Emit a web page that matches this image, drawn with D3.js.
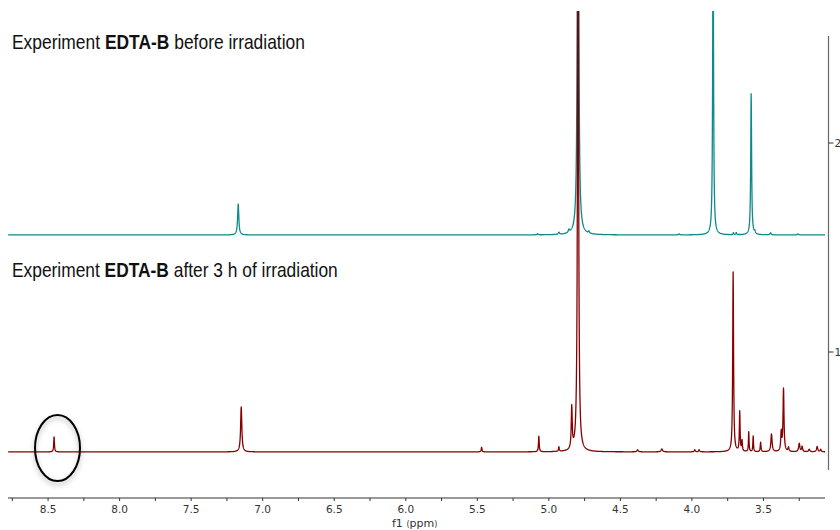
<!DOCTYPE html>
<html>
<head>
<meta charset="utf-8">
<script src="https://cdn.jsdelivr.net/npm/d3@7"></script>
<style>
  body { margin: 0; background: #fff; }
  svg { display: block; }
</style>
</head>
<body>
<svg id="chart" width="840" height="530"></svg>
<script>
// spectra: [ppm, height, half width (ppm)]
// heights are in units of the right-hand scale
const beforePeaks = [
  [7.171, 0.148, 0.005],
  [5.08, 0.005, 0.004],
  [4.93, 0.01, 0.005],
  [4.86, 0.014, 0.005],
  [4.796, 3.0, 0.0045],
  [4.72, 0.01, 0.004],
  [4.09, 0.005, 0.004],
  [3.852, 1.5, 0.0036],
  [3.71, 0.01, 0.003],
  [3.69, 0.01, 0.003],
  [3.586, 0.675, 0.0036],
  [3.56, 0.012, 0.004],
  [3.45, 0.01, 0.005],
  [3.26, 0.005, 0.005]
];
const afterPeaks = [
  [8.458, 0.072, 0.003],
  [7.150, 0.215, 0.005],
  [5.47, 0.022, 0.003],
  [5.07, 0.075, 0.003],
  [4.93, 0.022, 0.003],
  [4.84, 0.2, 0.004],
  [4.796, 2.9, 0.0042],
  [4.38, 0.01, 0.005],
  [4.21, 0.014, 0.006],
  [3.98, 0.01, 0.004],
  [3.95, 0.01, 0.004],
  [3.712, 0.86, 0.0035],
  [3.666, 0.19, 0.003],
  [3.65, 0.05, 0.003],
  [3.603, 0.095, 0.0025],
  [3.572, 0.075, 0.0025],
  [3.52, 0.045, 0.003],
  [3.444, 0.085, 0.005],
  [3.376, 0.09, 0.004],
  [3.36, 0.3, 0.004],
  [3.325, 0.02, 0.004],
  [3.25, 0.04, 0.005],
  [3.23, 0.025, 0.004],
  [3.18, 0.012, 0.005],
  [3.125, 0.025, 0.005],
  [3.10, 0.012, 0.004]
];
const stackOffsets = [1.56, 0.522];   // before, after
const spectrumColors = ["#0e8a8a", "#860000"];
const titles = [
  ["Experiment ", "EDTA-B", " before irradiation"],
  ["Experiment ", "EDTA-B", " after 3 h of irradiation"]
];
const xTicks = [8.5, 8.0, 7.5, 7.0, 6.5, 6.0, 5.5, 5.0, 4.5, 4.0, 3.5];
const xMinor = d3.range(3.25, 8.76, 0.25);
const yTicks = [1, 2];
const ppmRange = [8.78, 3.07];

const svg = d3.select("#chart");
const x = d3.scaleLinear().domain(ppmRange).range([8, 825]);
const y = d3.scaleLinear().domain([1, 2]).range([352, 143]);

// clip for the tall peaks
svg.append("defs").append("clipPath").attr("id", "plotclip")
  .append("rect").attr("x", 8).attr("y", 11).attr("width", 817).attr("height", 480);

const shadow = svg.select("defs").append("filter").attr("id", "shadow")
  .attr("x", "-50%").attr("y", "-50%").attr("width", "200%").attr("height", "200%");
shadow.append("feDropShadow").attr("dx", 0).attr("dy", 3)
  .attr("stdDeviation", 2.5).attr("flood-color", "#000").attr("flood-opacity", 0.3);

// sample points: fine grid plus every peak centre
function samples(peaks) {
  const pts = d3.range(ppmRange[1], ppmRange[0], 0.001);
  peaks.forEach(p => pts.push(p[0]));
  return pts.sort((a, b) => b - a);
}
function intensity(peaks, ppm) {
  let s = 0;
  peaks.forEach(([c, h, w]) => { s += h * w * w / ((ppm - c) * (ppm - c) + w * w); });
  return s;
}

const line = d3.line().x(d => x(d[0])).y(d => y(d[1]));
const g = svg.append("g").attr("clip-path", "url(#plotclip)");
[beforePeaks, afterPeaks].forEach((peaks, i) => {
  const data = samples(peaks).map(p => [p, stackOffsets[i] + intensity(peaks, p)]);
  g.append("path").datum(data)
    .attr("d", line)
    .attr("fill", "none")
    .attr("stroke", spectrumColors[i])
    .attr("stroke-width", 1.3)
    .attr("stroke-linejoin", "round");
});

// bottom axis
const xAxis = svg.append("g").attr("transform", "translate(0,498)");
xAxis.append("line").attr("x1", 8).attr("x2", 825).attr("stroke", "#333");
xAxis.selectAll("line.tick").data(xMinor).join("line")
  .attr("class", "tick")
  .attr("x1", d => x(d)).attr("x2", d => x(d))
  .attr("y1", 0).attr("y2", 3).attr("stroke", "#333");
xAxis.selectAll("text").data(xTicks).join("text")
  .attr("x", d => x(d)).attr("y", 15)
  .attr("text-anchor", "middle")
  .attr("font-family", "DejaVu Sans, sans-serif")
  .attr("font-size", 10.5)
  .attr("fill", "#333")
  .text(d => d.toFixed(1));
const xl = svg.append("text").attr("x", 392).attr("y", 527)
  .attr("font-family", "DejaVu Sans, sans-serif").attr("font-size", 11).attr("fill", "#333");
xl.append("tspan").text("f1 ");
xl.append("tspan").attr("font-size", 8).text("(");
xl.append("tspan").text("ppm");
xl.append("tspan").attr("font-size", 8).text(")");

// right axis
const yAxis = svg.append("g").attr("transform", "translate(828.5,0)");
yAxis.append("line").attr("y1", 36).attr("y2", 470).attr("stroke", "#666").attr("stroke-width", 1.2);
yAxis.selectAll("line.tick").data(yTicks).join("line")
  .attr("class", "tick")
  .attr("x1", 0).attr("x2", 5).attr("y1", d => y(d)).attr("y2", d => y(d)).attr("stroke", "#333");
yAxis.selectAll("text").data(yTicks).join("text")
  .attr("x", 6).attr("y", d => y(d) + 4)
  .attr("font-family", "DejaVu Sans, sans-serif").attr("font-size", 10.5).attr("fill", "#333")
  .text(d => d);

// titles, squeezed to the narrow look of the original
const titlePos = [[12, 49, 293], [12, 277, 326]];
titles.forEach((parts, i) => {
  const t = svg.append("text")
    .attr("font-family", "Liberation Sans Narrow, Arial Narrow, Liberation Sans, sans-serif")
    .attr("font-size", 20).attr("fill", "#111");
  parts.forEach((p, j) => t.append("tspan").attr("font-weight", j === 1 ? "bold" : "normal").text(p));
  const w = t.node().getComputedTextLength();
  const [tx, ty, tw] = titlePos[i];
  t.attr("transform", `translate(${tx},${ty}) scale(${tw / w},1)`);
});

// circled peak
svg.append("ellipse")
  .attr("cx", 57.5).attr("cy", 448).attr("rx", 22.5).attr("ry", 33)
  .attr("fill", "none").attr("stroke", "#000").attr("stroke-width", 2)
  .attr("filter", "url(#shadow)");
</script>
</body>
</html>
